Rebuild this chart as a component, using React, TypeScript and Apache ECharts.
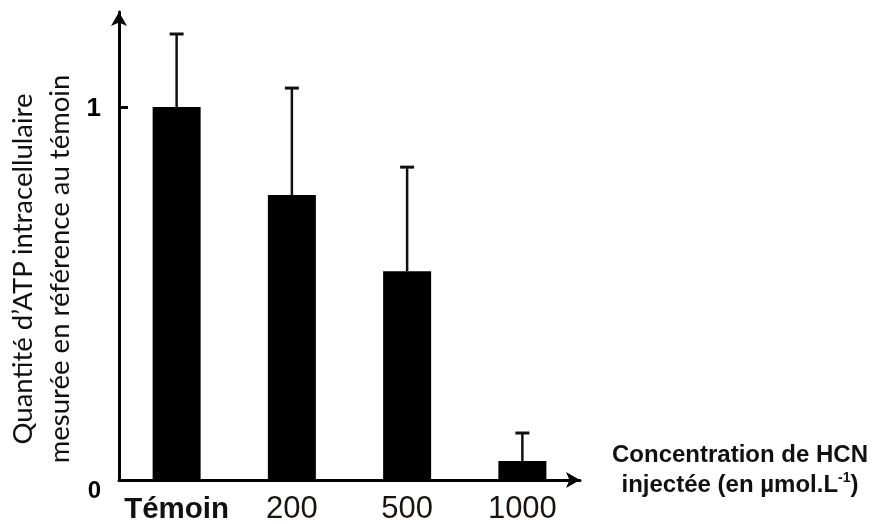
import React, { useEffect, useRef } from "react";
import * as echarts from "echarts";

const categories = ["Témoin", "200", "500", "1000"];
const atpMeans = [1.0, 0.764, 0.56, 0.051];
const atpErrors = [0.196, 0.287, 0.279, 0.075];
const yLabelValues = [0, 1];
const yTickValues = [1];
const yMax = 1.255;

export default function App() {
  const ref = useRef<HTMLDivElement>(null);
  useEffect(() => {
    if (!ref.current) return;
    const chart = echarts.init(ref.current, null, { renderer: "svg" });
    const errData = categories.map((c, i) => [i, atpMeans[i], atpErrors[i]]);
    chart.setOption({
      animation: false,
      grid: { left: 119, top: 12, right: 297, bottom: 44, containLabel: false },
      xAxis: {
        type: "category",
        data: categories,
        axisLine: {
          show: true,
          lineStyle: { color: "#000", width: 3 },
          symbol: ["none", "arrow"],
          symbolSize: [12, 14],
        },
        axisTick: { show: false },
        axisLabel: {
          margin: 12,
          formatter: (v: string) => (v === "Témoin" ? `{b|${v}}` : `{n|${v}}`),
          rich: {
            b: { fontFamily: "Liberation Sans, Arial", fontWeight: "bold", fontSize: 29.5, color: "#111" },
            n: { fontFamily: "Liberation Sans, Arial", fontSize: 31, color: "#1a1410" },
          },
        },
      },
      yAxis: {
        type: "value",
        min: 0,
        max: yMax,
        interval: 1,
        splitLine: { show: false },
        axisLine: {
          show: true,
          lineStyle: { color: "#000", width: 3 },
          symbol: ["none", "arrow"],
          symbolSize: [12, 14],
        },
        axisTick: { show: true, inside: true, length: 9, lineStyle: { color: "#000", width: 3 }, customValues: yTickValues },
        axisLabel: {
          margin: 18,
          customValues: yLabelValues,
          formatter: (v: number) => (v === 0 ? `{z|0}` : `{o|${v}}`),
          rich: {
            z: { fontFamily: "Liberation Sans, Arial", fontWeight: "bold", fontSize: 24, color: "#000", padding: [18, 0, 0, 0] },
            o: { fontFamily: "Liberation Sans, Arial", fontWeight: "bold", fontSize: 26, color: "#000" },
          },
        },
      },
      series: [
        {
          type: "bar",
          data: atpMeans,
          barWidth: 48,
          itemStyle: { color: "#000" },
        },
        {
          type: "custom",
          data: errData,
          z: 5,
          renderItem: (params: any, api: any) => {
            const i = api.value(0);
            const mean = api.value(1);
            const err = api.value(2);
            const base = api.coord([i, mean]);
            const top = api.coord([i, mean + err]);
            const hw = 7;
            return {
              type: "group",
              children: [
                { type: "line", shape: { x1: base[0], y1: base[1], x2: top[0], y2: top[1] }, style: { stroke: "#111", lineWidth: 2.5 } },
                { type: "line", shape: { x1: top[0] - hw, y1: top[1], x2: top[0] + hw, y2: top[1] }, style: { stroke: "#111", lineWidth: 3 } },
              ],
            };
          },
        },
      ],
      graphic: [
        {
          type: "text",
          x: 40,
          y: 269,
          rotation: Math.PI / 2,
          style: {
            text: "Quantité d’ATP intracellulaire\nmesurée en référence au témoin",
            fontFamily: "Lato",
            fontSize: 27.5,
            lineHeight: 37,
            fill: "#111",
            align: "center",
            verticalAlign: "middle",
          },
        },
        {
          type: "text",
          x: 740,
          y: 468,
          style: {
            text: "{b|Concentration de HCN}\n{b|injectée (en µmol.L}{s|-1}{b|)}",
            align: "center",
            verticalAlign: "middle",
            rich: {
              b: { fontFamily: "Liberation Sans, Arial", fontWeight: "bold", fontSize: 24, lineHeight: 30, fill: "#111" },
              s: { fontFamily: "Liberation Sans, Arial", fontWeight: "bold", fontSize: 14, lineHeight: 30, fill: "#111", padding: [0, 0, 12, 0] },
            },
          },
        },
      ],
    });
    return () => chart.dispose();
  }, []);
  return <div ref={ref} style={{ position: "fixed", left: 0, top: 0, width: 877, height: 524 }} />;
}
